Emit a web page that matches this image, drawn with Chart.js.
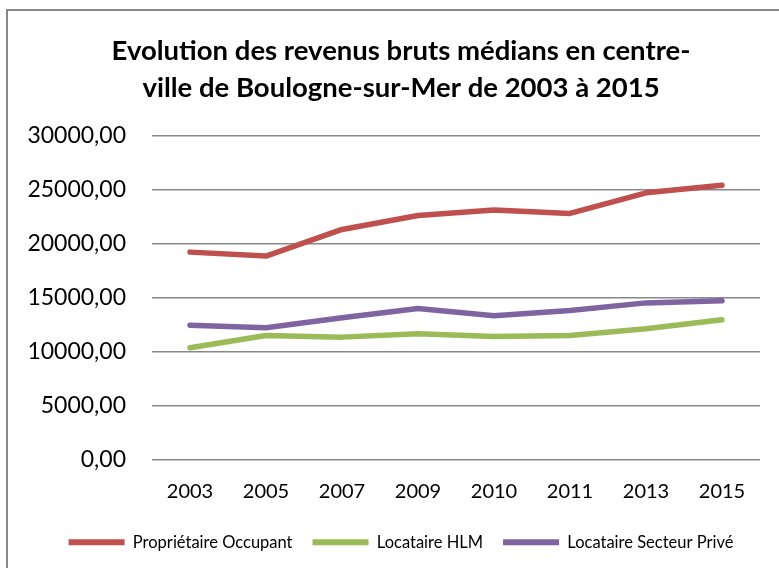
<!DOCTYPE html>
<html>
<head>
<meta charset="utf-8">
<script src="https://cdn.jsdelivr.net/npm/chart.js@4.4.1/dist/chart.umd.min.js"></script>
<style>
  body { margin: 0; background: #fff; overflow: hidden; }
  #wrap { position: relative; width: 779px; height: 568px; overflow: hidden; }
  #frame { position: absolute; left: 6px; top: 9px; width: 800px; height: 600px; border-left: 2px solid #888; border-top: 2px solid #888; pointer-events: none; }
  canvas { position: absolute; left: 0; top: 0; }
</style>
</head>
<body>
<div id="wrap">
  <canvas id="chart-1" width="779" height="568"></canvas>
  <div id="frame"></div>
</div>
<script>
var years = ["2003", "2005", "2007", "2009", "2010", "2011", "2013", "2015"];

var proprietaireOccupant = [19200, 18830, 21300, 22590, 23090, 22780, 24690, 25400];
var locataireHLM = [10340, 11480, 11330, 11640, 11390, 11480, 12100, 12930];
var locataireSecteurPrive = [12440, 12190, 13120, 13980, 13300, 13800, 14500, 14690];

var seriesNames = ["Propriétaire Occupant", "Locataire HLM", "Locataire Secteur Privé"];
var seriesColors = ["#C0504D", "#9BBB59", "#8064A2"];

var titleLines = [
  "Evolution des revenus bruts médians en centre-",
  "ville de Boulogne-sur-Mer de 2003 à 2015"
];

var yMin = 0;
var yMax = 30000;
var yStep = 5000;

function makeDataset(label, values, color) {
  return {
    label: label,
    data: values,
    borderColor: color,
    backgroundColor: color,
    borderWidth: 5.5,
    borderCapStyle: "round",
    borderJoinStyle: "round",
    pointRadius: 0,
    tension: 0
  };
}

// title and legend are centred on the frame, not on the full canvas
var shiftBoxes = {
  id: "shiftBoxes",
  afterLayout: function (chart) {
    chart.titleBlock.left = 42;
    chart.legend.left = 42;
  }
};

var ctx = document.getElementById("chart-1").getContext("2d");
var myChart = new Chart(ctx, {
  type: "line",
  data: {
    labels: years,
    datasets: [
      makeDataset(seriesNames[0], proprietaireOccupant, seriesColors[0]),
      makeDataset(seriesNames[1], locataireHLM, seriesColors[1]),
      makeDataset(seriesNames[2], locataireSecteurPrive, seriesColors[2])
    ]
  },
  options: {
    responsive: false,
    animation: false,
    layout: {
      padding: { top: 10, right: 19, bottom: 7.5, left: 0 }
    },
    plugins: {
      title: {
        display: true,
        text: titleLines,
        color: "#000",
        font: { family: "Lato", size: 27.5, weight: "bold", lineHeight: 1.345 },
        padding: { top: 23, bottom: 28.5 }
      },
      legend: {
        position: "bottom",
        labels: {
          color: "#000",
          font: { family: "Lato", size: 16.5 },
          boxWidth: 56,
          boxHeight: 6,
          padding: 20,
          generateLabels: function (chart) {
            return chart.data.datasets.map(function (ds, i) {
              return {
                text: ds.label,
                fillStyle: ds.borderColor,
                strokeStyle: ds.borderColor,
                lineWidth: 0,
                datasetIndex: i,
                fontColor: "#000"
              };
            });
          }
        }
      },
      tooltip: { enabled: false }
    },
    scales: {
      x: {
        offset: true,
        grid: { display: false, drawTicks: false },
        border: { display: false },
        ticks: {
          color: "#000",
          font: { family: "Lato", size: 20 },
          padding: 20,
          maxRotation: 0
        },
        afterFit: function (scale) {
          scale.height = 54.5;
        }
      },
      y: {
        min: yMin,
        max: yMax,
        grid: { color: "#888", lineWidth: 1.5, drawTicks: false },
        border: { display: false },
        ticks: {
          stepSize: yStep,
          color: "#000",
          font: { family: "Lato", size: 23 },
          padding: 26,
          callback: function (value) {
            return value.toFixed(2).replace(".", ",");
          }
        },
        afterFit: function (scale) {
          scale.width = 152;
        }
      }
    }
  },
  plugins: [shiftBoxes]
});
</script>
</body>
</html>
